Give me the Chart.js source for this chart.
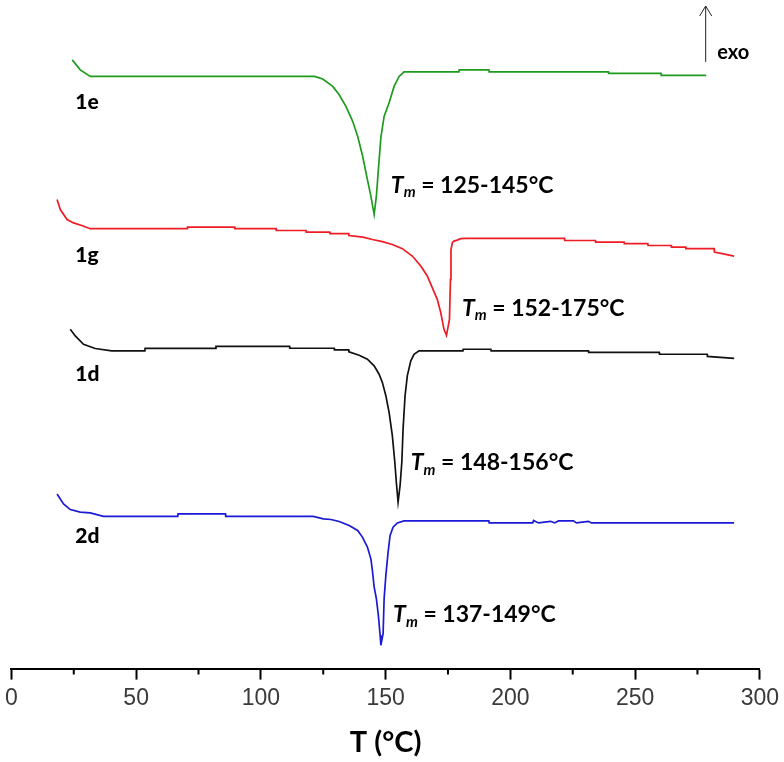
<!DOCTYPE html>
<html>
<head>
<meta charset="utf-8">
<script src="https://cdn.jsdelivr.net/npm/chart.js@4.4.0/dist/chart.umd.min.js"></script>
<style>
  html, body { margin: 0; padding: 0; background: #fff; }
  canvas { display: block; }
</style>
</head>
<body>
<canvas id="dscChart" width="784" height="762"></canvas>
<script>
// DSC heating curves, heat flow in arbitrary units (curves are offset)
const sampleNames = ["1e", "1g", "1d", "2d"];
const meltRanges = ["125-145°C", "152-175°C", "148-156°C", "137-149°C"];
const xTicks = [0, 50, 100, 150, 200, 250, 300];
const minorTicks = [25, 75, 125, 175, 225, 275];

const temp1e = [24.4, 27.6, 31.6, 121.5, 124.8, 128.8, 131.4, 134.1, 136.8, 138.8, 140.8, 142.7, 144.1, 145.4,
  146.3, 147.1, 148.1, 149.4, 151.4, 153.4, 155.4, 157.4, 179.4, 179.5, 191.4, 191.5, 239.3, 239.4, 260.4, 260.5, 278.5];
const flow1e = [30.5, 30.0, 29.67, 29.67, 29.54, 29.17, 28.75, 28.17, 27.42, 26.67, 25.67, 24.5, 23.67, 22.75,
  23.67, 25.0, 26.6, 27.67, 28.35, 29.17, 29.67, 29.9, 29.9, 30.0, 30.0, 29.9, 29.9, 29.82, 29.82, 29.72, 29.72];

const temp1g = [18.3, 19.6, 22.3, 24.9, 28.2, 31.6, 70.5, 70.6, 89.5, 89.6, 106.1, 106.2, 118.1, 118.2, 127.6, 127.7,
  135.2, 135.3, 140.9, 144.7, 148.7, 152.7, 156.7, 160.7, 164.1, 166.7, 168.7, 170.7, 172.1, 173.4, 174.4,
  175.6, 176.0, 176.2, 176.8, 177.4, 178.7, 180.1, 182.1, 221.7, 221.8, 234.1, 234.2, 245.6, 245.7, 255.1, 255.2,
  264.5, 264.6, 270.3, 270.4, 281.7, 281.8, 289.7];
const flow1g = [23.5, 23.0, 22.5, 22.33, 22.2, 22.04, 22.04, 22.12, 22.12, 22.04, 22.04, 21.95, 21.95, 21.87, 21.87, 21.79,
  21.79, 21.7, 21.62, 21.5, 21.39, 21.25, 21.04, 20.67, 20.17, 19.67, 19.09, 18.5, 17.84, 17.0, 16.7,
  17.5, 19.5, 21.0, 21.35, 21.42, 21.47, 21.54, 21.56, 21.56, 21.45, 21.45, 21.37, 21.37, 21.29, 21.29, 21.2,
  21.2, 21.12, 21.12, 21.04, 21.04, 20.87, 20.67];

const temp1d = [23.6, 25.6, 28.9, 33.6, 40.2, 53.5, 53.6, 81.9, 82.0, 111.5, 111.6, 129.4, 129.5, 135.2, 135.3,
  139.4, 142.7, 145.4, 147.4, 148.7, 150.1, 151.4, 152.7, 153.7, 154.3, 155.0, 155.8, 156.5, 157.0, 157.8,
  158.7, 160.1, 161.4, 163.4, 181.0, 181.1, 192.2, 192.3, 231.3, 231.4, 259.7, 259.8, 278.9, 279.0, 289.7];
const flow1d = [17.0, 16.67, 16.25, 16.04, 15.92, 15.92, 16.04, 16.04, 16.14, 16.14, 16.05, 16.05, 15.97, 15.97, 15.87,
  15.7, 15.5, 15.17, 14.75, 14.34, 13.67, 12.84, 11.67, 10.34, 9.34, 8.34, 9.17, 10.34, 12.0, 13.67,
  14.67, 15.42, 15.75, 15.92, 15.92, 16.0, 16.0, 15.92, 15.92, 15.84, 15.84, 15.75, 15.75, 15.64, 15.54];

const temp2d = [18.3, 20.9, 23.6, 27.6, 31.6, 36.9, 66.7, 66.8, 85.8, 85.9, 121.0, 125.0, 128.1, 131.4, 135.4,
  138.8, 140.7, 142.7, 144.1, 144.7, 145.4, 146.3, 147.1, 147.8, 148.1, 149.0, 149.4, 150.1, 151.0, 151.8,
  153.0, 154.7, 157.4, 191.4, 191.5, 209.0, 209.3, 211.3, 216.1, 217.7, 219.3, 225.3, 226.5, 231.3, 232.5, 289.7];
const flow2d = [8.75, 8.25, 7.97, 7.84, 7.8, 7.63, 7.63, 7.75, 7.75, 7.63, 7.63, 7.5, 7.47, 7.37, 7.17,
  6.92, 6.59, 6.09, 5.5, 4.92, 4.09, 3.5, 2.67, 1.67, 1.17, 1.75, 3.5, 4.67, 5.84, 6.67,
  7.09, 7.3, 7.4, 7.4, 7.3, 7.3, 7.42, 7.3, 7.38, 7.3, 7.4, 7.4, 7.3, 7.38, 7.3, 7.3];

const curveColors = ["#1e9b1e", "#ee1c24", "#111111", "#1a1ad6"];
const LABEL_FONT = "Lato, 'Open Sans', sans-serif";

function toPoints(temps, flows) {
  return temps.map((t, i) => ({ x: t, y: flows[i] }));
}

const curves = [
  toPoints(temp1e, flow1e),
  toPoints(temp1g, flow1g),
  toPoints(temp1d, flow1d),
  toPoints(temp2d, flow2d),
];

// where the texts sit, in data units (T, heat flow)
const namePos = [[25.6, 28.4], [25.6, 20.7], [25.6, 14.75], [25.6, 6.65]];
const tmPos = [[152.1, 24.2], [180.6, 18.05], [160.1, 10.3], [153.0, 2.7]];

const dscLabels = {
  id: "dscLabels",
  afterDatasetsDraw(chart) {
    const { ctx } = chart;
    const x = chart.scales.x;
    const y = chart.scales.y;
    ctx.save();
    ctx.fillStyle = "#000";
    ctx.textBaseline = "middle";
    ctx.textAlign = "left";

    sampleNames.forEach((name, i) => {
      ctx.font = "900 21px " + LABEL_FONT;
      ctx.fillText(name, x.getPixelForValue(namePos[i][0]), y.getPixelForValue(namePos[i][1]));
    });

    meltRanges.forEach((range, i) => {
      let px = x.getPixelForValue(tmPos[i][0]);
      const py = y.getPixelForValue(tmPos[i][1]);
      ctx.font = "italic bold 23px " + LABEL_FONT;
      ctx.fillText("T", px, py);
      px += ctx.measureText("T").width;
      ctx.font = "italic bold 15px " + LABEL_FONT;
      ctx.fillText("m", px, py + 7);
      px += ctx.measureText("m").width;
      ctx.font = "bold 23px " + LABEL_FONT;
      ctx.fillText(" = " + range, px, py);
    });

    // exo arrow
    const ax = x.getPixelForValue(278.3);
    const aTop = y.getPixelForValue(33.2);
    const aBot = y.getPixelForValue(30.4);
    ctx.strokeStyle = "#222";
    ctx.lineWidth = 1;
    ctx.beginPath();
    ctx.moveTo(ax, aBot);
    ctx.lineTo(ax, aTop);
    ctx.moveTo(ax - 6, aTop + 10);
    ctx.lineTo(ax, aTop);
    ctx.lineTo(ax + 6, aTop + 10);
    ctx.stroke();
    ctx.font = "bold 20px " + LABEL_FONT;
    ctx.fillText("exo", x.getPixelForValue(282.9), y.getPixelForValue(30.85));

    // minor ticks on the T axis
    ctx.strokeStyle = "#000";
    ctx.lineWidth = 2;
    ctx.beginPath();
    minorTicks.forEach((v) => {
      const tx = x.getPixelForValue(v);
      ctx.moveTo(tx, x.top);
      ctx.lineTo(tx, x.top + 6);
    });
    ctx.stroke();
    ctx.restore();
  },
};

new Chart(document.getElementById("dscChart"), {
  type: "line",
  data: {
    datasets: curves.map((pts, i) => ({
      label: sampleNames[i],
      data: pts,
      borderColor: curveColors[i],
      borderWidth: 1.7,
      pointRadius: 0,
      tension: 0,
      fill: false,
    })),
  },
  options: {
    responsive: false,
    animation: false,
    devicePixelRatio: 1,
    layout: { padding: { left: 11, right: 22, top: 0, bottom: 0 } },
    plugins: { legend: { display: false }, tooltip: { enabled: false } },
    scales: {
      x: {
        type: "linear",
        min: 0,
        max: 300,
        afterBuildTicks: (scale) => {
          scale.ticks = xTicks.map((v) => ({ value: v }));
        },
        ticks: {
          color: "#3a3a3a",
          padding: 5,
          font: { family: "'Liberation Sans Narrow', 'Liberation Sans', Arial, sans-serif", size: 23 },
        },
        grid: {
          drawOnChartArea: false,
          drawTicks: true,
          tickLength: 11,
          tickWidth: 2,
          tickColor: "#000",
        },
        border: { display: true, color: "#000", width: 2 },
        title: {
          display: true,
          text: "T (°C)",
          color: "#000",
          font: { family: LABEL_FONT, size: 29, weight: "bold" },
          padding: { top: 8, bottom: 2 },
        },
      },
      y: { display: false, min: 0, max: 33.5 },
    },
  },
  plugins: [dscLabels],
});
</script>
</body>
</html>
